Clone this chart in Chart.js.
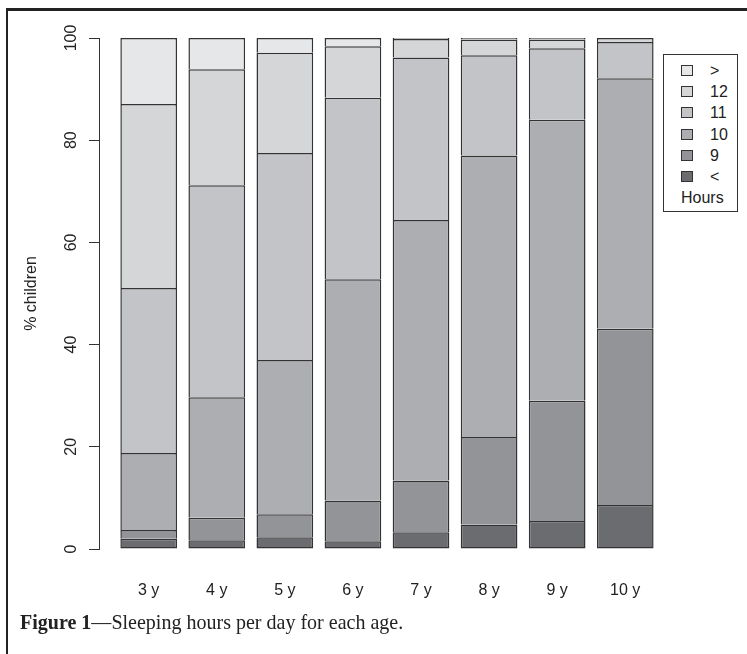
<!DOCTYPE html>
<html>
<head>
<meta charset="utf-8">
<script src="https://cdn.jsdelivr.net/npm/chart.js@4"></script>
<style>
  html, body { margin: 0; padding: 0; background: #fff; overflow: hidden; }
  body { width: 747px; height: 654px; position: relative; }
  #frame { position: absolute; left: 6px; top: 8px; width: 800px; height: 700px;
           border-left: 2px solid #222; border-top: 3px solid #222; }
  #chart { position: absolute; left: 0; top: 0; }
  #legend { position: absolute; left: 663px; top: 54px; width: 73px; height: 156px;
            border: 1px solid #333; background: #fff; font: 16px "Liberation Sans", Arial, sans-serif; color: #222; }
  #legend .row { position: absolute; left: 0; height: 20px; line-height: 20px; }
  #legend .sw { position: absolute; left: 17px; top: 4px; width: 12px; height: 11px; border: 1px solid #333; box-sizing: border-box; }
  #legend .lb { position: absolute; left: 46px; white-space: nowrap; }
  #caption { position: absolute; left: 20px; top: 609px; font: 22px "Liberation Serif", "Times New Roman", serif; color: #222;
             white-space: nowrap; transform: scaleX(0.91); transform-origin: left top; }
</style>
</head>
<body>
<div id="frame"></div>
<canvas id="chart" width="747" height="654"></canvas>
<div id="legend"></div>
<div id="caption"><b>Figure 1</b>—Sleeping hours per day for each age.</div>
<script>
// ages on the x axis
var ages = ["3 y", "4 y", "5 y", "6 y", "7 y", "8 y", "9 y", "10 y"];

// % children per sleeping-hours group (bottom to top)
var lessThan9 = [2.0, 1.7, 2.3, 1.5, 3.3, 4.8, 5.5, 8.6];
var hours9    = [1.7, 4.4, 4.5, 8.0, 10.1, 17.1, 23.5, 34.5];
var hours10   = [15.1, 23.6, 30.2, 43.3, 51.0, 55.1, 55.0, 49.0];
var hours11   = [32.3, 41.5, 40.5, 35.5, 31.8, 19.6, 14.0, 7.1];
var hours12   = [36.0, 22.7, 19.6, 10.1, 3.6, 3.1, 1.7, 0.8];
var moreThan12 = [12.9, 6.1, 2.9, 1.6, 0.2, 0.3, 0.3, 0.0];

var yTicks = [0, 20, 40, 60, 80, 100];

var groups = [
    { label: "<",  values: lessThan9,  color: "#6b6c6f" },
    { label: "9",  values: hours9,     color: "#939497" },
    { label: "10", values: hours10,    color: "#adaeb1" },
    { label: "11", values: hours11,    color: "#c3c4c7" },
    { label: "12", values: hours12,    color: "#d5d6d8" },
    { label: ">",  values: moreThan12, color: "#e6e7e9" }
];

var datasets = groups.map(function (g, k) {
    return {
        label: g.label,
        data: g.values.map(function (v, i) { return { x: i, y: v }; }),
        backgroundColor: g.color,
        borderColor: "#333",
        borderWidth: 1.5,
        borderSkipped: k === 0 ? false : "start",
        categoryPercentage: 1.0,
        barPercentage: 0.833
    };
});

var ctx = document.getElementById('chart').getContext('2d');

var chart = new Chart(ctx, {
    type: 'bar',
    data: { datasets: datasets },
    options: {
        responsive: false,
        animation: false,
        devicePixelRatio: 1,
        layout: { padding: { left: 0, top: 38, right: 85, bottom: 0 } },
        plugins: { legend: { display: false }, tooltip: { enabled: false } },
        scales: {
            x: {
                type: 'linear',
                stacked: true,
                offset: false,
                min: -0.73,
                max: 7.54,
                grid: { display: false, drawTicks: false, offset: false },
                border: { display: false },
                afterBuildTicks: function (scale) {
                    scale.ticks = ages.map(function (a, i) { return { value: i }; });
                },
                afterFit: function (scale) { scale.height = 654 - 38 - 511; },
                ticks: {
                    padding: 32,
                    autoSkip: false,
                    maxRotation: 0,
                    color: '#222',
                    font: { family: '"Liberation Sans", Arial, sans-serif', size: 16 },
                    callback: function (v) { return ages[v]; }
                }
            },
            y: {
                stacked: true,
                min: 0,
                max: 100,
                afterBuildTicks: function (scale) {
                    scale.ticks = yTicks.map(function (t) { return { value: t }; });
                },
                afterFit: function (scale) { scale.width = 99; },
                grid: { drawOnChartArea: false, drawTicks: true, tickLength: 10, color: '#333' },
                border: { display: true, color: '#333', width: 1 },
                ticks: {
                    minRotation: 90,
                    maxRotation: 90,
                    crossAlign: 'center',
                    padding: 4,
                    color: '#222',
                    font: { family: '"Liberation Sans", Arial, sans-serif', size: 16 }
                },
                title: {
                    display: true,
                    text: '% children',
                    color: '#222',
                    padding: { top: 22, bottom: 0 },
                    font: { family: '"Liberation Sans", Arial, sans-serif', size: 16 }
                }
            }
        }
    }
});

// legend box, top group first, with "Hours" underneath
var legend = document.getElementById('legend');
groups.slice().reverse().forEach(function (g, i) {
    var row = document.createElement('div');
    row.className = 'row';
    row.style.top = (6 + i * 21.2) + 'px';
    row.innerHTML = '<span class="sw" style="background:' + g.color + '"></span><span class="lb">' + g.label + '</span>';
    legend.appendChild(row);
});
var hours = document.createElement('div');
hours.className = 'row';
hours.style.top = (6 + 6 * 21.2) + 'px';
hours.innerHTML = '<span class="lb" style="left:17px">Hours</span>';
legend.appendChild(hours);
</script>
</body>
</html>
